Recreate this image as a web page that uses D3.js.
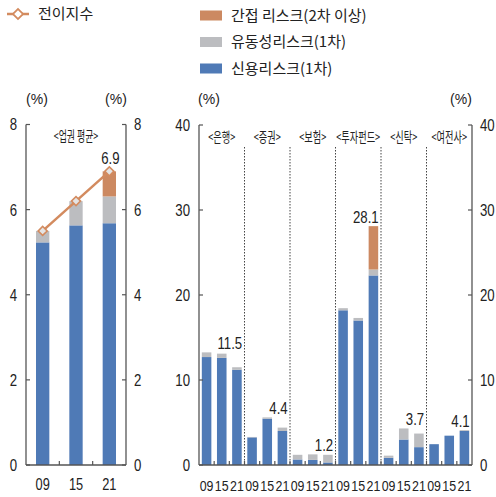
<!DOCTYPE html>
<html>
<head>
<meta charset="utf-8">
<script src="https://cdn.jsdelivr.net/npm/d3@7/dist/d3.min.js"></script>
<style>
  html, body { margin: 0; padding: 0; background: #fff; }
  svg { display: block; }
  .num { font-family: "Liberation Sans", Arial, sans-serif; fill: #222; }
  .kr { font-family: "Noto Sans CJK KR", sans-serif; fill: #222; }
</style>
</head>
<body>
<svg id="chart" width="496" height="497"></svg>
<script>
// ---- data ----
const years = ["09", "15", "21"];

// industry average (left panel)
const avgCredit    = [5.23, 5.63, 5.68];
const avgLiquidity = [0.27, 0.57, 0.63];
const avgIndirect  = [0.00, 0.00, 0.59];
const transferIndex = [5.5, 6.2, 6.9];

// by sector (right panel)
const sectors = ["은행", "증권", "보험", "투자펀드", "신탁", "여전사"];
const sectorCredit = [
  [12.7, 12.6, 11.2],
  [3.25, 5.45, 4.0],
  [0.65, 0.6, 0.3],
  [18.2, 17.0, 22.3],
  [0.85, 3.0, 2.1],
  [2.45, 3.45, 4.0]
];
const sectorLiquidity = [
  [0.55, 0.5, 0.3],
  [0.05, 0.15, 0.4],
  [0.55, 0.65, 0.9],
  [0.25, 0.3, 0.7],
  [0.25, 1.3, 1.6],
  [0.0, 0.0, 0.1]
];
const sectorIndirect = [
  [0, 0, 0],
  [0, 0, 0],
  [0, 0, 0],
  [0, 0, 5.1],
  [0, 0, 0],
  [0, 0, 0]
];

const leftTicks = [0, 2, 4, 6, 8];
const rightTicks = [0, 10, 20, 30, 40];

const legendItems = [
  { key: "indirect", label: "간접 리스크(2차 이상)" },
  { key: "liquidity", label: "유동성리스크(1차)" },
  { key: "credit", label: "신용리스크(1차)" }
];

// ---- styling ----
const colors = { credit: "#4f7ab6", liquidity: "#bcbdc0", indirect: "#cc8961", line: "#d38b5f" };
const axisColor = "#555";
const svg = d3.select("#chart");

const baseY = 465;
const NUM_SX = 0.8;   // horizontal squeeze for the narrow numeric face

// condensed text helpers
function krLabel(g, x, y, text, size, sx) {
  g.append("text").attr("class", "kr")
    .attr("transform", `translate(${x},${y}) scale(${sx},1)`)
    .attr("text-anchor", "middle")
    .attr("font-size", size)
    .text(text);
}
function numLabel(g, x, y, text, size, anchor, dy) {
  g.append("text").attr("class", "num")
    .attr("transform", `translate(${x},${y}) scale(${NUM_SX},1)`)
    .attr("text-anchor", anchor)
    .attr("dy", dy || 0)
    .attr("font-size", size)
    .text(text);
}

function drawAxis(g, scale, x, ticks, side) {
  // side: +1 => ticks point right (labels on left), -1 => ticks point left (labels on right)
  const [y0, y1] = scale.range();
  g.append("line").attr("x1", x).attr("x2", x).attr("y1", y0).attr("y2", y1)
    .attr("stroke", axisColor).attr("stroke-width", 1.3);
  ticks.forEach(t => {
    const y = scale(t);
    g.append("line").attr("x1", x).attr("x2", x + side * 4).attr("y1", y).attr("y2", y)
      .attr("stroke", axisColor).attr("stroke-width", 1.2);
    numLabel(g, side > 0 ? x - 9 : x + 8, y, t, 16.5, side > 0 ? "end" : "start", "0.36em");
  });
}

function drawBaseline(g, band, x0, x1, n) {
  g.append("line").attr("x1", x0).attr("x2", x1).attr("y1", baseY).attr("y2", baseY)
    .attr("stroke", axisColor).attr("stroke-width", 1.3);
  const step = band.step();
  const start = band.range()[0];
  for (let i = 1; i < n; i++) {
    const x = start + step * i;
    g.append("line").attr("x1", x).attr("x2", x).attr("y1", baseY).attr("y2", baseY - 4)
      .attr("stroke", axisColor).attr("stroke-width", 1.2);
  }
}

function stackBar(g, x, w, y, parts) {
  let acc = 0;
  parts.forEach(p => {
    if (p.v > 0) {
      g.append("rect").attr("x", x).attr("width", w)
        .attr("y", y(acc + p.v)).attr("height", y(acc) - y(acc + p.v))
        .attr("fill", colors[p.k]);
    }
    acc += p.v;
  });
  return acc;
}

// ---- legend ----
const lg = svg.append("g");
lg.append("line").attr("x1", 7).attr("x2", 29).attr("y1", 14).attr("y2", 14)
  .attr("stroke", colors.line).attr("stroke-width", 2.5);
lg.append("rect").attr("x", -3.6).attr("y", -3.6).attr("width", 7.2).attr("height", 7.2)
  .attr("transform", "translate(18,14) rotate(45)")
  .attr("fill", "#fff").attr("stroke", colors.line).attr("stroke-width", 1.8);
lg.append("text").attr("class", "kr").attr("x", 38).attr("y", 14).attr("dy", "0.36em")
  .attr("font-size", 15).text("전이지수");
legendItems.forEach((d, i) => {
  const cy = 15.5 + i * 26.5;
  lg.append("rect").attr("x", 200).attr("y", cy - 5).attr("width", 22).attr("height", 10)
    .attr("fill", colors[d.key]);
  lg.append("text").attr("class", "kr").attr("x", 231).attr("y", cy).attr("dy", "0.36em")
    .attr("font-size", 15).text(d.label);
});

// ---- unit labels ----
[[37, "(%)"], [116, "(%)"], [209, "(%)"], [461, "(%)"]].forEach(([x, t]) => {
  svg.append("text").attr("class", "num").attr("x", x).attr("y", 104)
    .attr("text-anchor", "middle").attr("font-size", 14).text(t);
});

// ---- left panel: industry average ----
const L = svg.append("g");
const lx0 = 26, lx1 = 126;
const yL = d3.scaleLinear().domain([0, 8]).range([baseY, 124.5]);
const xL = d3.scaleBand().domain(years).range([lx0, lx1]).paddingInner(0.6).paddingOuter(0.3);

years.forEach((yr, i) => {
  stackBar(L, xL(yr), xL.bandwidth(), yL, [
    { k: "credit", v: avgCredit[i] },
    { k: "liquidity", v: avgLiquidity[i] },
    { k: "indirect", v: avgIndirect[i] }
  ]);
});

const line = d3.line().x((d, i) => xL(years[i]) + xL.bandwidth() / 2).y(d => yL(d));
L.append("path").datum(transferIndex).attr("d", line)
  .attr("fill", "none").attr("stroke", colors.line).attr("stroke-width", 2.5);
transferIndex.forEach((v, i) => {
  L.append("rect")
    .attr("x", -3.2).attr("y", -3.2).attr("width", 6.4).attr("height", 6.4)
    .attr("transform", `translate(${xL(years[i]) + xL.bandwidth() / 2},${yL(v)}) rotate(45)`)
    .attr("fill", "#e4e4e4").attr("stroke", colors.line).attr("stroke-width", 1.6);
});
const lastIdx = transferIndex.length - 1;
numLabel(L, xL(years[lastIdx]) + xL.bandwidth() / 2 + 1, yL(transferIndex[lastIdx]) - 7,
  transferIndex[lastIdx].toFixed(1), 16.5, "middle");

drawAxis(L, yL, lx0, leftTicks, 1);
drawAxis(L, yL, lx1, leftTicks, -1);
drawBaseline(L, xL, lx0, lx1, years.length);
years.forEach(yr => {
  numLabel(L, xL(yr) + xL.bandwidth() / 2, 490, yr, 16, "middle");
});
krLabel(L, 76, 141, "<업권 평균>", 13.5, 0.66);

// ---- right panel: by sector ----
const R = svg.append("g");
const rx0 = 199, rx1 = 472;
const yR = d3.scaleLinear().domain([0, 40]).range([baseY, 125]);
const slots = [];
sectors.forEach(s => years.forEach(yr => slots.push(s + "-" + yr)));
const xR = d3.scaleBand().domain(slots).range([rx0, rx1]).paddingInner(0.37).paddingOuter(0.185);
const groupW = (rx1 - rx0) / sectors.length;

sectors.forEach((s, si) => {
  const totals = years.map((yr, yi) => stackBar(R, xR(s + "-" + yr), xR.bandwidth(), yR, [
    { k: "credit", v: sectorCredit[si][yi] },
    { k: "liquidity", v: sectorLiquidity[si][yi] },
    { k: "indirect", v: sectorIndirect[si][yi] }
  ]));
  // latest-year total, placed above the tallest bar in the group
  const last = years[years.length - 1];
  numLabel(R, xR(s + "-" + last) + xR.bandwidth() + 0.5, yR(d3.max(totals)) - 3,
    totals[totals.length - 1].toFixed(1), 16.5, "end");
  krLabel(R, rx0 + groupW * (si + 0.5), 142, "<" + s + ">", 13.5, 0.68);
  if (si > 0) {
    const x = rx0 + groupW * si;
    R.append("line").attr("x1", x).attr("x2", x).attr("y1", 147).attr("y2", baseY)
      .attr("stroke", "#444").attr("stroke-width", 1).attr("stroke-dasharray", "1.5,1.5");
  }
  years.forEach(yr => {
    numLabel(R, xR(s + "-" + yr) + xR.bandwidth() / 2, 491, yr, 15.5, "middle");
  });
});

drawAxis(R, yR, rx0, rightTicks, 1);
drawAxis(R, yR, rx1, rightTicks, -1);
drawBaseline(R, xR, rx0, rx1, slots.length);
</script>
</body>
</html>
